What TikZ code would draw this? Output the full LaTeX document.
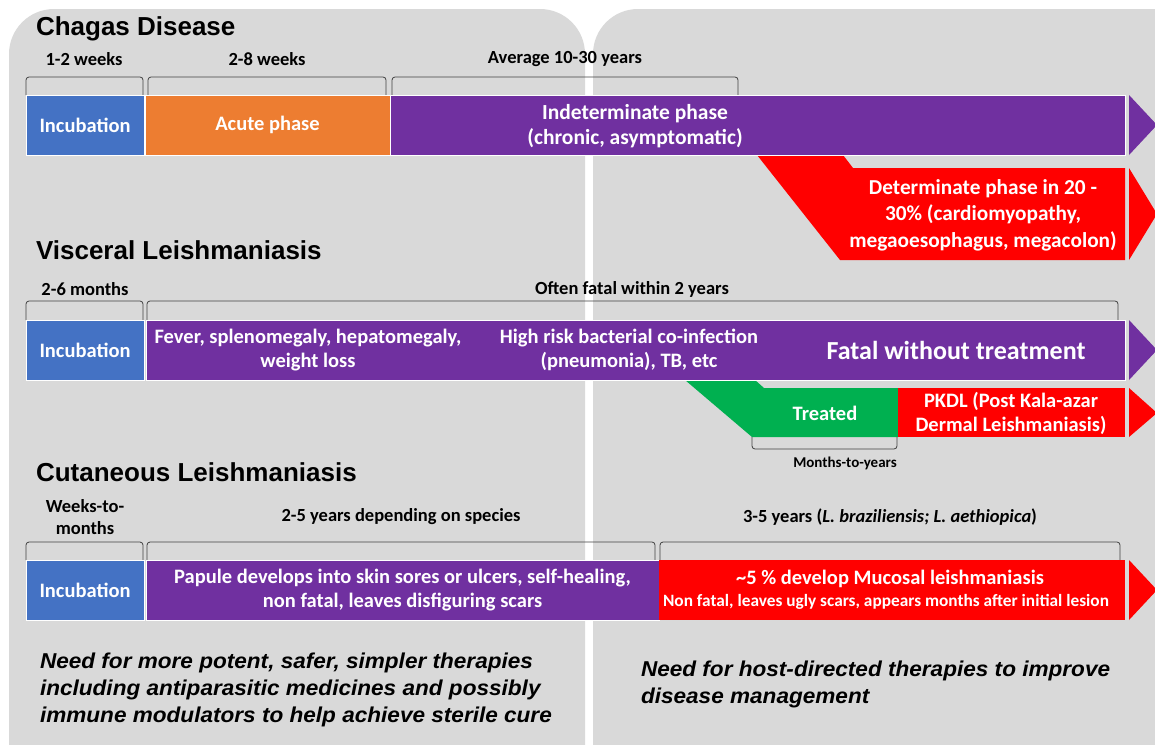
\documentclass[tikz,border=0pt]{standalone}
\usepackage{fontspec}
\setmainfont{Carlito}
\newfontfamily\arialf{Liberation Sans}
\newfontfamily\notef[FakeStretch=1.05]{Liberation Sans}
\definecolor{blueI}{HTML}{4472C4}
\definecolor{orangeA}{HTML}{ED7D31}
\definecolor{purpleP}{HTML}{7030A0}
\definecolor{redR}{HTML}{FF0000}
\definecolor{greenG}{HTML}{00B050}
\definecolor{panel}{HTML}{D9D9D9}
\definecolor{brk}{HTML}{404040}
\tikzset{
  bar/.style={draw=white, line width=0.6pt, text=white, align=center, anchor=north west,
    font=\fontsize{20.5}{24}\selectfont\bfseries},
  bartext/.style={text=white, align=center, font=\fontsize{20.5}{24}\selectfont\bfseries},
  lbl/.style={text=black, align=center, font=\fontsize{18.5}{22}\selectfont\bfseries},
  ttl/.style={anchor=west, font=\fontsize{26}{30}\selectfont\arialf\bfseries},
  brack/.style={draw=brk, line width=0.8pt, rounded corners=3pt},
  note/.style={anchor=north west, align=left, font=\fontsize{21.5}{27}\selectfont\notef\bfseries\itshape}
}
\begin{document}
\begin{tikzpicture}[x=1pt,y=-1pt, every node/.style={inner sep=0pt, outer sep=0pt}]
\useasboundingbox (0,0) rectangle (1155,744);
\begin{scope}
\clip (0,0) rectangle (1155,744);
\fill[panel, rounded corners=45pt] (9,9) rectangle (585,800);
\fill[panel, rounded corners=45pt] (593,9) rectangle (1210,800);
\end{scope}

% ---------------- Chagas
\node[ttl] (t1) at (36,29) {Chagas Disease};
\node[lbl] (c-l1) at (84,59) {1-2 weeks};
\node[lbl] (c-l2) at (267,59) {2-8 weeks};
\node[lbl] (c-l3) at (565,59) {Average 10-30 years};
\draw[brack] (26,95) -- (26,77) -- (143,77) -- (143,95);
\draw[brack] (148,95) -- (148,77) -- (386,77) -- (386,95);
\draw[brack] (392,95) -- (392,77) -- (738,77) -- (738,95);
\fill[redR] (757,155) -- (843,155) -- (853,168) -- (1125,168) -- (1125,260) -- (840,260) -- cycle;
\node[bar, fill=blueI, minimum width=118pt, minimum height=60pt] (c-inc) at (26,95) {Incubation};
\node[bar, fill=orangeA, minimum width=245pt, minimum height=60pt] (c-ac) at (145,95) {Acute phase};
\node[bar, fill=purpleP, minimum width=735pt, minimum height=60pt] (c-ind) at (390,95) {};
\node[bartext, font=\fontsize{21.5}{25}\selectfont\bfseries] (c-indt) at (635,126) {Indeterminate phase\\(chronic, asymptomatic)};
\fill[purpleP] (1129,95) -- (1157,125) -- (1129,155) -- cycle;
\node[bartext, font=\fontsize{21.3}{26.5}\selectfont\bfseries] (c-det) at (983,215) {Determinate phase in 20 -\\30\% (cardiomyopathy,\\megaoesophagus, megacolon)};
\fill[redR] (1129,168) -- (1157,214) -- (1129,260) -- cycle;

% ---------------- Visceral
\node[ttl] (t2) at (36,250) {Visceral Leishmaniasis};
\node[lbl] (v-l1) at (85,289) {2-6 months};
\node[lbl] (v-l2) at (632,289) {Often fatal within 2 years};
\draw[brack] (26,320) -- (26,301) -- (143,301) -- (143,320);
\draw[brack] (147,320) -- (147,301) -- (1118,301) -- (1118,320);
\fill[greenG] (685,380) -- (755,380) -- (764,388) -- (898,388) -- (898,437) -- (752,437) -- cycle;
\node[bar, fill=blueI, minimum width=118pt, minimum height=60pt] (v-inc) at (26,320) {Incubation};
\node[bar, fill=purpleP, minimum width=979pt, minimum height=60pt] (v-bar) at (146,320) {};
\node[bartext] (v-t1) at (308,350) {Fever, splenomegaly, hepatomegaly,\\weight loss};
\node[bartext] (v-t2) at (629,350) {High risk bacterial co-infection\\(pneumonia), TB, etc};
\node[bartext, font=\fontsize{26}{30}\selectfont\bfseries] (v-t3) at (956,350) {Fatal without treatment};
\fill[purpleP] (1129,320) -- (1157,350) -- (1129,380) -- cycle;
\node[bartext] (v-tr) at (825,413) {Treated};
\node[bar, draw=none, fill=redR, minimum width=227pt, minimum height=49pt] (v-pk) at (898,388) {};
\node[bartext] (v-pkt) at (1011,413) {PKDL (Post Kala-azar\\Dermal Leishmaniasis)};
\fill[redR] (1129,388) -- (1157,413) -- (1129,437) -- cycle;
\draw[brack] (752,437) -- (752,449) -- (897,449) -- (897,437);
\node[lbl, font=\fontsize{15}{18}\selectfont\bfseries] (v-my) at (845,463) {Months-to-years};

% ---------------- Cutaneous
\node[ttl] (t3) at (36,472) {Cutaneous Leishmaniasis};
\node[lbl] (cl-l1) at (85,517) {Weeks-to-\\months};
\node[lbl] (cl-l2) at (401,517) {2-5 years depending on species};
\node[lbl] (cl-l3) at (890,517) {3-5 years (\textit{L. braziliensis; L. aethiopica})};
\draw[brack] (26,560) -- (26,542) -- (143,542) -- (143,560);
\draw[brack] (147,560) -- (147,542) -- (655,542) -- (655,560);
\draw[brack] (660,560) -- (660,542) -- (1120,542) -- (1120,560);
\node[bar, fill=blueI, minimum width=118pt, minimum height=60pt] (cl-inc) at (26,560) {Incubation};
\node[bar, fill=purpleP, minimum width=513pt, minimum height=60pt, font=\fontsize{20.5}{23.5}\selectfont\bfseries] (cl-pap) at (146,560) {Papule develops into skin sores or ulcers, self-healing,\\non fatal, leaves disfiguring scars};
\node[bar, draw=none, fill=redR, minimum width=466pt, minimum height=60pt] (cl-muc) at (659,560) {};
\node[bartext] (cl-mt1) at (890,579) {\textasciitilde5 \% develop Mucosal leishmaniasis};
\node[bartext, font=\fontsize{17.3}{20}\selectfont\bfseries] (cl-mt2) at (886,602) {Non fatal, leaves ugly scars, appears months after initial lesion};
\fill[redR] (1129,560) -- (1157,590) -- (1129,620) -- cycle;

% ---------------- Notes
\node[note] (n1) at (40,653) {Need for more potent, safer, simpler therapies\\including antiparasitic medicines and possibly\\immune modulators to help achieve sterile cure};
\node[note] (n2) at (641,661) {Need for host-directed therapies to improve\\disease management};
\end{tikzpicture}
\end{document}
